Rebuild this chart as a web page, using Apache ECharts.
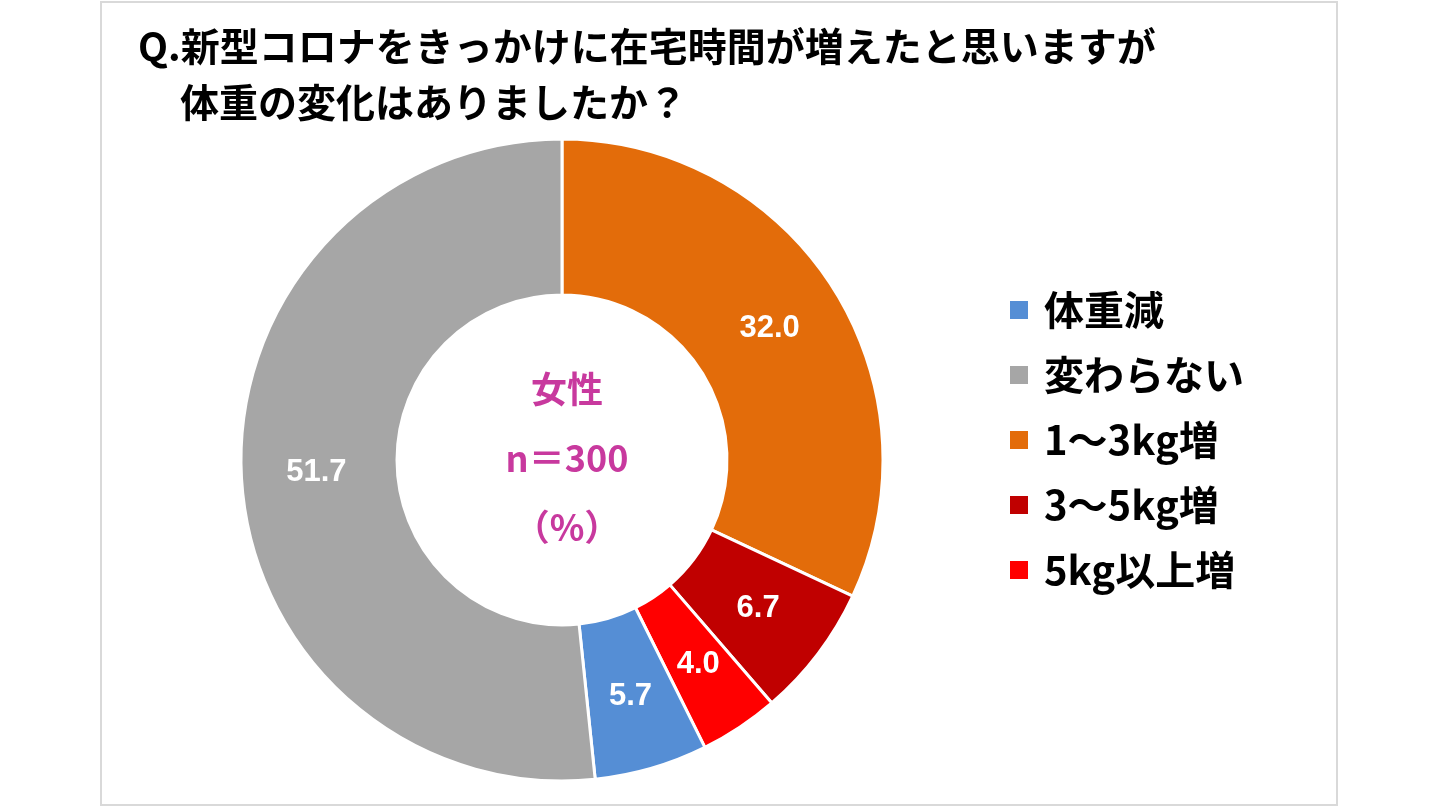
<!DOCTYPE html>
<html><head><meta charset="utf-8">
<script src="https://cdn.jsdelivr.net/npm/echarts@6/dist/echarts.min.js"></script>
<style>html,body{margin:0;background:#fff}#c{width:1440px;height:810px}
#f{position:absolute;left:100px;top:1px;width:1238px;height:805px;border:2px solid #d9d9d9;box-sizing:border-box;pointer-events:none}</style>
</head><body><div id="c"></div><div id="f"></div>
<script>
var categories = ['1～3kg増', '3～5kg増', '5kg以上増', '体重減', '変わらない'];
var values = [32.0, 6.7, 4.0, 5.7, 51.7];
var colors = ['#E36C0A', '#C00000', '#FF0000', '#558ED5', '#A6A6A6'];
var legendOrder = ['体重減', '変わらない', '1～3kg増', '3～5kg増', '5kg以上増'];

var myChart = echarts.init(document.getElementById('c'));
var font = '"Noto Sans CJK JP", sans-serif';
var option = {
  color: colors,
  title: [
    {text: 'Q.新型コロナをきっかけに在宅時間が増えたと思いますが', left: 133, top: 22,
     textStyle: {fontFamily: font, fontSize: 39, fontWeight: 'bold', color: '#000'}},
    {text: '体重の変化はありましたか？', left: 175, top: 78,
     textStyle: {fontFamily: font, fontSize: 39, fontWeight: 'bold', color: '#000'}},
    {text: '女性\nn＝300\n（%）', left: 562, top: 350, textAlign: 'center',
     textStyle: {fontFamily: font, fontSize: 36, fontWeight: 'bold', color: '#C8399E', lineHeight: 69}}
  ],
  legend: {
    orient: 'vertical', left: 1003, top: 285, itemGap: 25, itemWidth: 20, itemHeight: 20,
    data: legendOrder, icon: 'rect',
    textStyle: {fontFamily: font, fontSize: 40, fontWeight: 'bold', color: '#000', padding: [0, 0, 0, 10]}
  },
  series: [{
    type: 'pie', center: [562, 460], radius: [165, 321], startAngle: 90, clockwise: true,
    label: {show: true, position: 'inside', formatter: function (p) { return p.value.toFixed(1); },
      color: '#fff', fontFamily: 'Liberation Sans, sans-serif', fontSize: 31, fontWeight: 'bold'},
    labelLine: {show: false},
    itemStyle: {borderColor: '#fff', borderWidth: 3},
    emphasis: {disabled: true},
    data: categories.map(function (c, i) { return {name: c, value: values[i]}; })
  }]
};
myChart.setOption(option);
</script></body></html>
